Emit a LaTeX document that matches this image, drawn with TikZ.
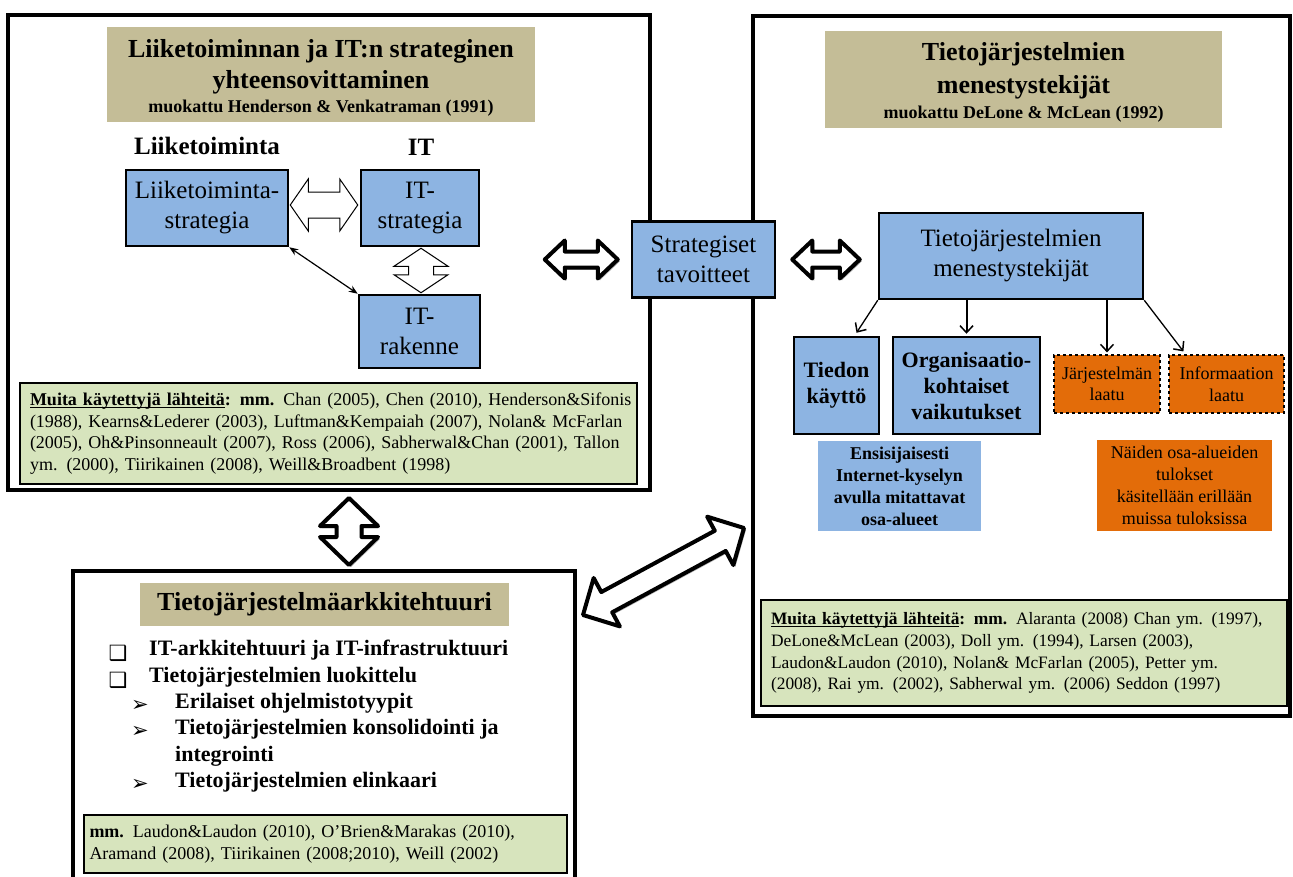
\documentclass[tikz,border=0pt]{standalone}
\usepackage{fontspec}
\setmainfont{Liberation Serif}
\newfontfamily\symfont{DejaVu Sans}
\usetikzlibrary{calc,arrows.meta,shadows}

\definecolor{tanbg}{HTML}{C4BD97}
\definecolor{boxblue}{HTML}{8DB4E2}
\definecolor{refgreen}{HTML}{D7E4BD}
\definecolor{orng}{HTML}{E36C09}

% underline placed just below the baseline
\newcommand{\refuline}[1]{\setbox0\hbox{#1}\rlap{\rule[-2.2pt]{\wd0}{0.9pt}}\box0}

% double-headed block arrow from #2 to #3
% #4 = shaft half width, #5 = head half width, #6 = head length
\newcommand{\blockarrow}[6]{%
  \path[#1] let \p1=#2, \p2=#3,
    \n1={atan2(\y2-\y1,\x2-\x1)}, \n2={veclen(\x2-\x1,\y2-\y1)} in
    {[shift={(\x1,\y1)}, rotate=\n1]
    (0,0) -- (#6,#5) -- (#6,#4) -- (\n2-#6,#4) -- (\n2-#6,#5) -- (\n2,0)
    -- (\n2-#6,-#5) -- (\n2-#6,-#4) -- (#6,-#4) -- (#6,-#5) -- cycle};}

\begin{document}
\begin{tikzpicture}[x=1pt,y=-1pt,
  outer/.style={draw=black, line width=4pt, fill=white,
    drop shadow={shadow xshift=2pt, shadow yshift=-2pt, opacity=0.35, fill=black}},
  titlebox/.style={fill=tanbg, align=center, inner sep=0pt,
    font=\fontsize{26}{31}\selectfont\bfseries},
  bluebox/.style={draw=black, line width=2.5pt, fill=boxblue, inner sep=0pt,
    align=center, font=\fontsize{25}{30}\selectfont},
  boldbox/.style={bluebox, font=\fontsize{22}{26}\selectfont\bfseries},
  dashbox/.style={draw=black, line width=1.2pt, dashed, fill=orng, inner sep=0pt,
    align=center, font=\fontsize{18}{21.5}\selectfont},
  notebox/.style={inner sep=0pt, align=center, font=\fontsize{18}{22}\selectfont},
  refbox/.style={draw=black, line width=1.3pt, fill=refgreen, inner sep=0pt,
    align=left, font=\fontsize{18}{21.7}\selectfont},
  label/.style={inner sep=0pt, font=\fontsize{25}{30}\selectfont\bfseries},
  item/.style={inner sep=0pt, anchor=mid west, font=\fontsize{22}{26}\selectfont\bfseries},
  bullet/.style={inner sep=0pt, font=\fontsize{21}{24}\symfont},
  whitearrow/.style={draw=black, line width=1pt, fill=white, line join=miter},
  blackarrow/.style={draw=black, line width=4pt, fill=white, line join=round,
    drop shadow={shadow xshift=2pt, shadow yshift=-2pt, opacity=0.3, fill=black}},
  smallarrow/.style={line width=1.3pt, -{Straight Barb[length=7pt, width=13pt, line width=1.5pt]}},
]
\useasboundingbox (0,0) rectangle (1293,876);
\clip (0,0) rectangle (1293,876);
\fill[white] (0,0) rectangle (1293,876);

% ---------- outer frames ----------
\node[outer, minimum width=642, minimum height=475] (lbox) at (329,252.5) {};
\node[outer, minimum width=537, minimum height=700] (rbox) at (1021.5,366) {};
\node[outer, minimum width=502, minimum height=334] (bbox) at (324,738) {};

% ---------- strategic alignment ----------
\node[titlebox, minimum width=428, minimum height=95] (lt) at (321,74.5)
  {\rule{0pt}{25pt}Liiketoiminnan ja IT:n strateginen\\ yhteensovittaminen\\[-7pt]
   {\fontsize{18}{24}\selectfont muokattu Henderson \& Venkatraman (1991)}};
\node[label] (lliike) at (207,146) {Liiketoiminta};
\node[label] (lit) at (421,147) {IT};
\node[bluebox, minimum width=162, minimum height=76] (ls) at (207,208) {Liiketoiminta-\\strategia};
\node[bluebox, minimum width=118, minimum height=76] (its) at (420,208) {IT-\\strategia};
\node[bluebox, minimum width=121, minimum height=73] (itr) at (419.5,331.5) {IT-\\rakenne};

\blockarrow{whitearrow}{($(ls.east)+(1,-3)$)}{($(its.west)+(-2,-3)$)}{13}{26}{18}
\blockarrow{whitearrow}{($(its.south)+(1,1)$)}{($(itr.north)+(1.5,-1)$)}{12.5}{27}{18}
\draw[line width=1.2pt, {Stealth[length=9pt,width=7pt]}-{Stealth[length=9pt,width=7pt]}]
  (ls.south east) -- (itr.north west);

\node[refbox, minimum width=617, minimum height=101, text width=597] (lref) at (328.5,433.5)
  {\makebox[597pt][s]{\textbf{\refuline{Muita käytettyjä lähteitä}: mm.} Chan (2005), Chen (2010), Henderson\&Sifonis}\\
   \makebox[597pt][s]{(1988), Kearns\&Lederer (2003), Luftman\&Kempaiah (2007), Nolan\& McFarlan}\\
   \makebox[597pt][s]{(2005), Oh\&Pinsonneault (2007), Ross (2006), Sabherwal\&Chan (2001), Tallon}\\
   ym. (2000), Tiirikainen (2008), Weill\&Broadbent (1998)};

% ---------- success factors ----------
\node[titlebox, minimum width=397, minimum height=97] (rt) at (1023.5,79.5)
  {\rule{0pt}{23pt}Tietojärjestelmien\\[2pt] menestystekijät\\[-6pt]
   {\fontsize{18}{24}\selectfont muokattu DeLone \& McLean (1992)}};
\node[bluebox, minimum width=264, minimum height=86] (tm) at (1011,256) {Tietojärjestelmien\\menestystekijät};
\node[boldbox, minimum width=85, minimum height=97] (tied) at (836.5,385.5) {Tiedon\\käyttö};
\node[boldbox, minimum width=147, minimum height=97] (org) at (966.5,385.5) {Organisaatio-\\kohtaiset\\vaikutukset};
\node[dashbox, minimum width=106, minimum height=58] (jarj) at (1107,384) {Järjestelmän\\laatu};
\node[dashbox, minimum width=115, minimum height=58] (info) at (1226.5,384) {Informaation\\laatu};
\node[notebox, fill=boxblue, minimum width=163, minimum height=90, font=\fontsize{18}{22}\selectfont\bfseries]
  (ensi) at (899.5,486) {Ensisijaisesti\\Internet-kyselyn\\avulla mitattavat\\osa-alueet};
\node[notebox, fill=orng, minimum width=175, minimum height=91] (naid) at (1184.5,485.5)
  {Näiden osa-alueiden\\tulokset\\käsitellään erillään\\muissa tuloksissa};

\draw[smallarrow] (tm.south west) -- ($(tied.north)+(20,-3)$);
\draw[smallarrow, line width=2pt] (org.north |- tm.south) -- ($(org.north)+(0,-2)$);
\draw[smallarrow] (jarj.north |- tm.south) -- ($(jarj.north)+(0,-2)$);
\draw[smallarrow] (tm.south east) -- ($(info.north west)+(15,-3)$);

\node[refbox, minimum width=526, minimum height=106, text width=506,
  font=\fontsize{17.4}{21.7}\selectfont] (rref) at (1024,653)
  {\mbox{\textbf{\refuline{Muita käytettyjä lähteitä}: mm.} Alaranta (2008) Chan ym. (1997),}\\
   \mbox{DeLone\&McLean (2003), Doll ym. (1994), Larsen (2003),}\\
   \mbox{Laudon\&Laudon (2010), Nolan\& McFarlan (2005), Petter ym.}\\
   \mbox{(2008), Rai ym. (2002), Sabherwal ym. (2006) Seddon (1997)}};

% ---------- architecture ----------
\node[titlebox, minimum width=369, minimum height=43] (bt) at (324.5,604.5) {Tietojärjestelmäarkkitehtuuri};
\node[bullet] (m1) at (118,653) {❑};
\node[item] (i1) at (149,653) {IT-arkkitehtuuri ja IT-infrastruktuuri};
\node[bullet] (m2) at (118,680) {❑};
\node[item] (i2) at (149,680) {Tietojärjestelmien luokittelu};
\node[bullet] (m3) at (140,706) {➢};
\node[item] (i3) at (175,706) {Erilaiset ohjelmistotyypit};
\node[bullet] (m4) at (140,732) {➢};
\node[item] (i4) at (175,732) {Tietojärjestelmien konsolidointi ja};
\node[item] (i4b) at (175,759) {integrointi};
\node[bullet] (m5) at (140,785) {➢};
\node[item] (i5) at (175,785) {Tietojärjestelmien elinkaari};

\node[refbox, minimum width=483, minimum height=58, text width=472] (bref) at (325.5,844)
  {\textbf{mm.} Laudon\&Laudon (2010), O’Brien\&Marakas (2010),\\
   Aramand (2008), Tiirikainen (2008;2010), Weill (2002)};

% ---------- centre ----------
\node[bluebox, minimum width=143, minimum height=76] (st) at (703.5,259.5) {Strategiset\\tavoitteet};

\blockarrow{blackarrow}{($(st.west)+(-86,0)$)}{($(st.west)+(-13,0)$)}{8}{19}{20}
\blockarrow{blackarrow}{($(st.east)+(16,0)$)}{($(tm.west |- st.east)+(-18,0)$)}{8}{19}{20}
\blockarrow{blackarrow}{($(lbox.south -| 349,0)+(0,6)$)}{($(bbox.north -| 349,0)+(0,-4)$)}{12.5}{29}{28}
\blockarrow{blackarrow}{($(bbox.east |- 0,616)+(6,-1)$)}{($(rbox.west |- 0,527)+(-7,1)$)}{11.5}{27.5}{27}

\end{tikzpicture}
\end{document}
